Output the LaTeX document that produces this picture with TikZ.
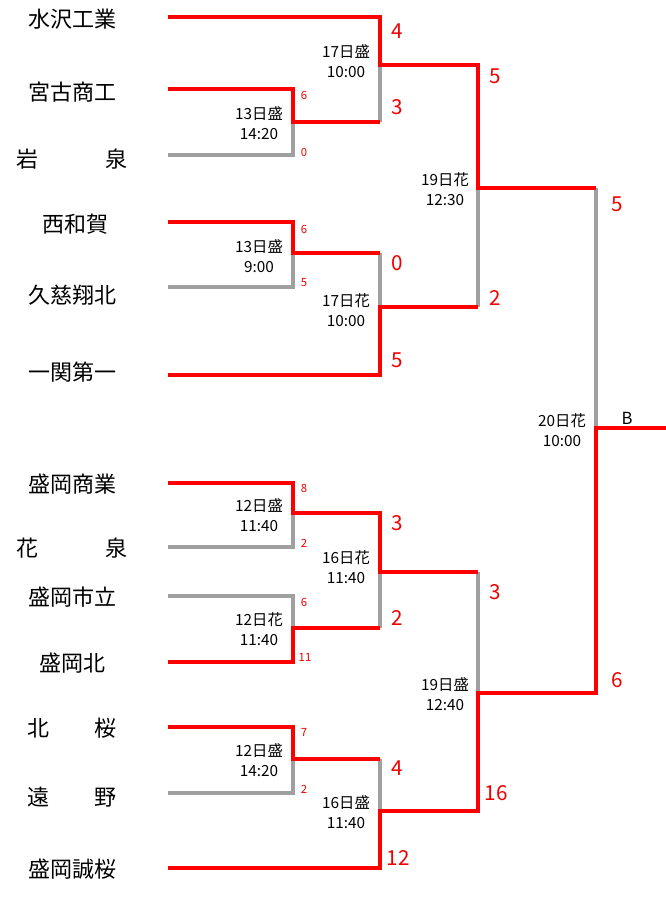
\documentclass[tikz,border=0pt]{standalone}
\usepackage{fontspec}
\setmainfont{Noto Sans CJK JP}
\definecolor{winred}{RGB}{255,0,0}
\definecolor{losegray}{RGB}{160,160,160}
\definecolor{scred}{RGB}{240,0,0}
\begin{document}
\begin{tikzpicture}[x=0.75pt,y=-0.75pt,
  team/.style={font=\fontsize{16.5pt}{18pt}\selectfont, inner sep=0},
  big/.style={font=\fontsize{15.5pt}{16pt}\selectfont, text=scred, inner sep=0},
  small/.style={font=\fontsize{8.5pt}{9pt}\selectfont, text=scred, inner sep=0},
  mlab/.style={font=\fontsize{11.5pt}{15pt}\selectfont, align=center, inner sep=0},
  win/.style={draw=winred, line width=3.3pt, line join=miter},
  lose/.style={draw=losegray, line width=3pt, line join=miter}]
\useasboundingbox (0,0) rectangle (666,916);
% team names
\node[team] (n1) at (72,19) {水沢工業};
\node[team] (n2) at (72,92) {宮古商工};
\node[team] (n3) at (72,159) {\makebox[83pt]{岩\hfill 泉}};
\node[team] (n4) at (75,224) {西和賀};
\node[team] (n5) at (72,295) {久慈翔北};
\node[team] (n6) at (72,372) {一関第一};
\node[team] (n7) at (72,484) {盛岡商業};
\node[team] (n8) at (72,548) {\makebox[83pt]{花\hfill 泉}};
\node[team] (n9) at (72,597) {盛岡市立};
\node[team] (n10) at (72,663) {盛岡北};
\node[team] (n11) at (72,728) {\makebox[67.5pt]{北\hfill 桜}};
\node[team] (n12) at (72,797) {\makebox[67.5pt]{遠\hfill 野}};
\node[team] (n13) at (72,869) {盛岡誠桜};
% line starts
\coordinate (a1) at (168,17);
\coordinate (a2) at (168,89);
\coordinate (a3) at (168,155);
\coordinate (a4) at (168,222);
\coordinate (a5) at (168,287);
\coordinate (a6) at (168,375);
\coordinate (a7) at (168,483);
\coordinate (a8) at (168,547);
\coordinate (a9) at (168,596);
\coordinate (a10) at (168,662);
\coordinate (a11) at (168,727);
\coordinate (a12) at (168,793);
\coordinate (a13) at (168,868);
% junctions
\coordinate (m1) at (293,122);
\coordinate (m2) at (293,253);
\coordinate (m3) at (293,513);
\coordinate (m4) at (293,628);
\coordinate (m5) at (293,759);
\coordinate (q1) at (380,65);
\coordinate (q2) at (380,307);
\coordinate (q3) at (380,572);
\coordinate (q4) at (380,811);
\coordinate (s1) at (478,188);
\coordinate (s2) at (478,693);
\coordinate (fin) at (596,428);
\coordinate (out) at (666,428);
% losing lines
\draw[lose] (a3) -| (m1);
\draw[lose] (a5) -| (m2);
\draw[lose] (a8) -| (m3);
\draw[lose] (a9) -| (m4);
\draw[lose] (a12) -| (m5);
\draw[lose] (q1 |- m1) -- (q1);
\draw[lose] (q2 |- m2) -- (q2);
\draw[lose] (s1 |- q2) -- (s1);
\draw[lose] (fin |- s1) -- (fin);
\draw[lose] (s2 |- q3) -- (s2);
\draw[lose] (q3 |- m4) -- (q3);
\draw[lose] (q4 |- m5) -- (q4);
% winning lines
\draw[win] (a1) -| (q1) -| (s1) -- (fin |- s1);
\draw[win] (a2) -| (m1) -- (q1 |- m1);
\draw[win] (a4) -| (m2) -- (q2 |- m2);
\draw[win] (a6) -| (q2) -- (s1 |- q2);
\draw[win] (a7) -| (m3) -| (q3) -- (s2 |- q3);
\draw[win] (a10) -| (m4) -- (q3 |- m4);
\draw[win] (a11) -| (m5) -- (q4 |- m5);
\draw[win] (a13) -| (q4) -| (s2) -| (fin) -- (out);
% big scores
\node[big] (b1) at (397,31) {4};
\node[big] (b2) at (397,107) {3};
\node[big] (b3) at (495,76) {5};
\node[big] (b4) at (397,263) {0};
\node[big] (b5) at (397,360) {5};
\node[big] (b6) at (495,298) {2};
\node[big] (b7) at (617,204) {5};
\node[big] (b8) at (617,680) {6};
\node[big] (b9) at (397,523) {3};
\node[big] (b10) at (397,618) {2};
\node[big] (b11) at (495,592) {3};
\node[big] (b12) at (397,768) {4};
\node[big] (b13) at (398,858) {12};
\node[big] (b14) at (496,793) {16};
% small scores
\node[small] (c1) at (304,95) {6};
\node[small] (c2) at (304,152) {0};
\node[small] (c3) at (304,229) {6};
\node[small] (c4) at (304,283) {5};
\node[small] (c5) at (304,488) {8};
\node[small] (c6) at (304,543) {2};
\node[small] (c7) at (304,602) {6};
\node[small] (c8) at (305,657) {11};
\node[small] (c9) at (304,732) {7};
\node[small] (c10) at (304,789) {2};
% match labels
\node[mlab] (l1) at (346,61) {17日盛\\10:00};
\node[mlab] (l2) at (259,123) {13日盛\\14:20};
\node[mlab] (l3) at (259,256) {13日盛\\9:00};
\node[mlab] (l4) at (346,310) {17日花\\10:00};
\node[mlab] (l5) at (445,189) {19日花\\12:30};
\node[mlab] (l6) at (562,430) {20日花\\10:00};
\node[mlab] (l7) at (259,515) {12日盛\\11:40};
\node[mlab] (l8) at (346,567) {16日花\\11:40};
\node[mlab] (l9) at (259,629) {12日花\\11:40};
\node[mlab] (l10) at (445,694) {19日盛\\12:40};
\node[mlab] (l11) at (259,760) {12日盛\\14:20};
\node[mlab] (l12) at (346,812) {16日盛\\11:40};
\node[font=\fontsize{12.5pt}{14pt}\selectfont, inner sep=0] (bl) at (627,418) {B};
\end{tikzpicture}
\end{document}
